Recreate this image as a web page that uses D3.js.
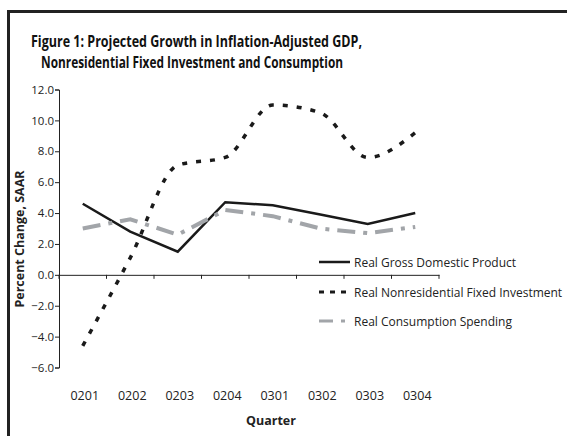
<!DOCTYPE html>
<html><head><meta charset="utf-8">
<script src="https://cdn.jsdelivr.net/npm/d3@7"></script>
<style>body{margin:0;background:#fff}svg{display:block}</style>
</head><body>
<script>
const quarters = ["0201","0202","0203","0204","0301","0302","0303","0304"];
const gdp = [4.6, 2.8, 1.5, 4.7, 4.5, 3.9, 3.3, 4.0];
const investment = [-4.6, 1.1, 7.1, 7.6, 11.0, 10.5, 7.6, 9.2];
const consumption = [3.0, 3.6, 2.6, 4.2, 3.8, 3.0, 2.7, 3.1];
const yTicks = [-6, -4, -2, 0, 2, 4, 6, 8, 10, 12];
const seriesNames = ["Real Gross Domestic Product","Real Nonresidential Fixed Investment","Real Consumption Spending"];
const titleLines = ["Figure 1: Projected Growth in Inflation-Adjusted GDP,","Nonresidential Fixed Investment and Consumption"];

const W = 567, H = 436;
const svg = d3.select("body").append("svg").attr("width", W).attr("height", H);
const font = "'Open Sans', 'Noto Sans', sans-serif";

svg.append("rect").attr("x", 8.5).attr("y", 11.5).attr("width", 700).attr("height", 600)
  .attr("fill", "none").attr("stroke", "#222").attr("stroke-width", 3);

svg.append("text").attr("x", 31).attr("y", 47).attr("font-family", font).attr("font-weight", "bold")
  .attr("font-size", 16.5).attr("fill", "#111").attr("textLength", 331).attr("lengthAdjust", "spacingAndGlyphs").text(titleLines[0]);
svg.append("text").attr("x", 41).attr("y", 68).attr("font-family", font).attr("font-weight", "bold")
  .attr("font-size", 16.5).attr("fill", "#111").attr("textLength", 302).attr("lengthAdjust", "spacingAndGlyphs").text(titleLines[1]);

const x = d3.scaleBand().domain(quarters).range([59, 439]);
const y = d3.scaleLinear().domain([-6, 12]).range([367.5, 89.5]);

// y axis
const yAxis = svg.append("g").attr("transform", "translate(59,0)")
  .call(d3.axisLeft(y).tickValues(yTicks).tickFormat(d3.format(".1f")).tickSizeOuter(0).tickSize(4));
yAxis.select(".domain").attr("stroke", "#222");
yAxis.selectAll(".tick line").attr("stroke", "#222");
yAxis.selectAll("text").attr("font-family", font).attr("font-size", 11.5).attr("fill", "#222").attr("x", -5);

// x axis at zero
const xAxis = svg.append("g").attr("transform", `translate(0,${y(0)})`)
  .call(d3.axisBottom(x).tickSize(0).tickSizeOuter(0).tickFormat(""));
xAxis.select(".domain").attr("stroke", "#222");
const bounds = [59, ...quarters.map(q => x(q) + x.bandwidth())];
svg.append("g").selectAll("line").data(bounds).join("line")
  .attr("x1", d => d).attr("x2", d => d).attr("y1", y(0)).attr("y2", y(0) + 4)
  .attr("stroke", "#222");

svg.append("g").selectAll("text").data(quarters).join("text")
  .attr("x", d => x(d) + x.bandwidth() / 2 + 2).attr("y", 400)
  .attr("text-anchor", "middle").attr("font-family", font).attr("font-size", 12.5).attr("fill", "#222")
  .text(d => d);

svg.append("text").attr("x", 271).attr("y", 425).attr("text-anchor", "middle")
  .attr("font-family", font).attr("font-weight", "bold").attr("font-size", 12.5).attr("fill", "#222").text("Quarter");

svg.append("text").attr("transform", "translate(24,239) rotate(-90)").attr("text-anchor", "middle")
  .attr("font-family", font).attr("font-weight", "bold").attr("font-size", 12.5).attr("fill", "#222").text("Percent Change, SAAR");

const cx = q => x(q) + x.bandwidth() / 2;
const lineStraight = d3.line().x((d, i) => cx(quarters[i])).y(d => y(d));
const lineSmooth = d3.line().x((d, i) => cx(quarters[i])).y(d => y(d)).curve(d3.curveMonotoneX);

const styles = [
  {data: gdp, gen: lineStraight, stroke: "#1a1a1a", width: 2.5, dash: null},
  {data: investment, gen: lineSmooth, stroke: "#1a1a1a", width: 3.5, dash: "5,9"},
  {data: consumption, gen: lineStraight, stroke: "#a2a5a9", width: 4, dash: "18,8,4,8"}
];
styles.forEach(s => {
  svg.append("path").attr("d", s.gen(s.data)).attr("fill", "none")
    .attr("stroke", s.stroke).attr("stroke-width", s.width)
    .attr("stroke-dasharray", s.dash);
});

// legend
const legY = [262, 292, 321];
styles.forEach((s, i) => {
  svg.append("line").attr("x1", 319).attr("x2", 350).attr("y1", legY[i]).attr("y2", legY[i])
    .attr("stroke", s.stroke).attr("stroke-width", i === 0 ? 2.5 : 3)
    .attr("stroke-dasharray", i === 1 ? "5,6" : (i === 2 ? "14,8,4,8" : null));
  svg.append("text").attr("x", 354).attr("y", legY[i] + 4.5).attr("font-family", font)
    .attr("font-size", 12).attr("fill", "#222").text(seriesNames[i]);
});
</script>
</body></html>
